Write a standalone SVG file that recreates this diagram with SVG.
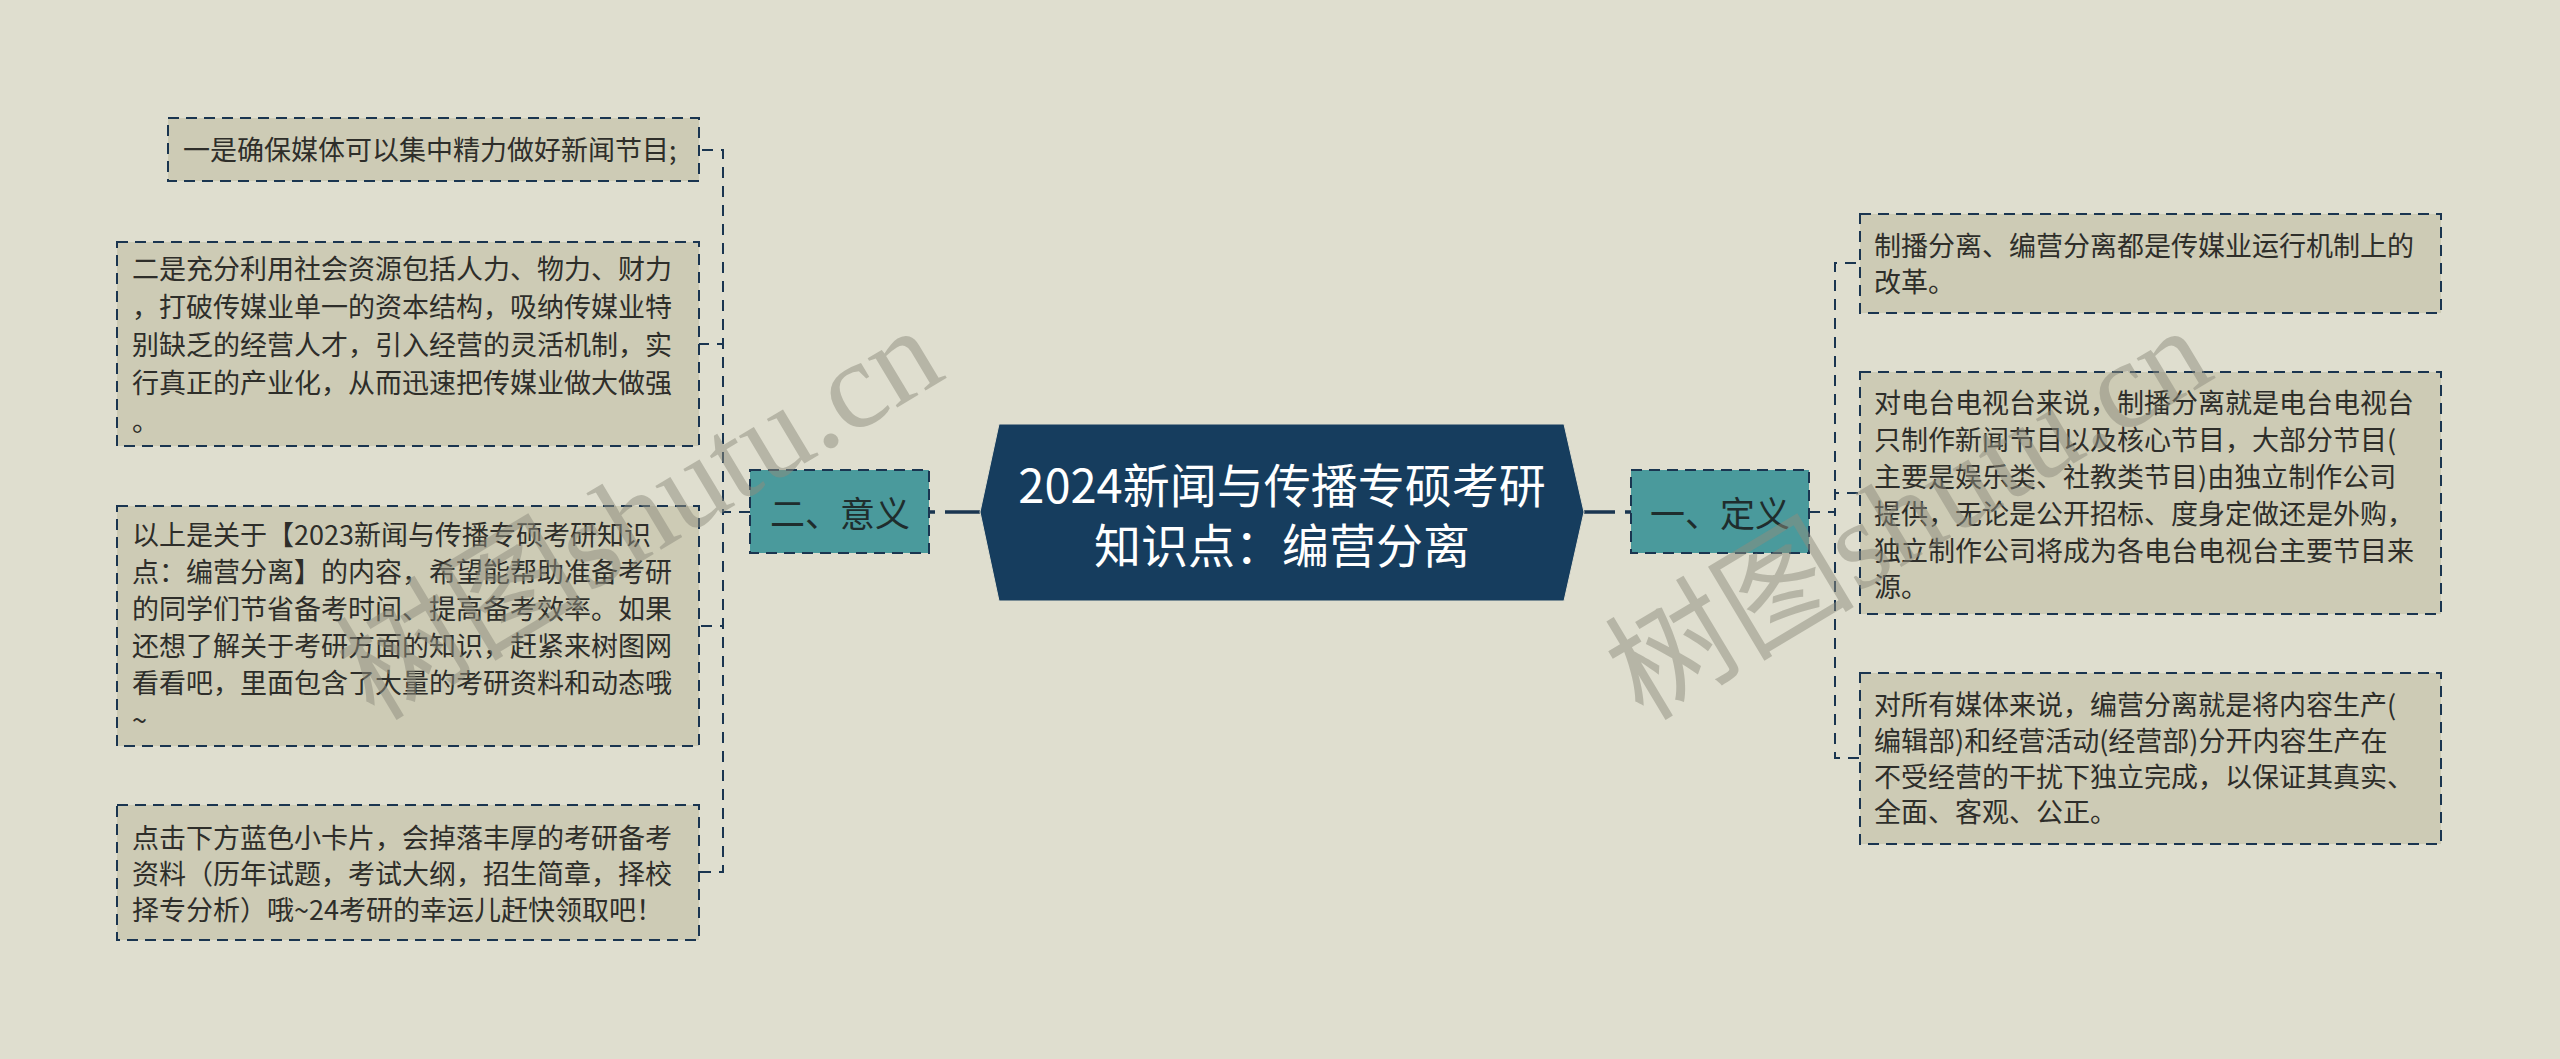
<svg xmlns="http://www.w3.org/2000/svg" width="2560" height="1059" viewBox="0 0 2560 1059">
<style>
.bg{fill:#DFDECF}
.leaf{fill:#CDCBB5;stroke:#1A3550;stroke-width:2;stroke-dasharray:11 7}
.branch{fill:#4A9A9C;stroke:#1A3550;stroke-width:2;stroke-dasharray:11 7}
.center{fill:#163D5E;stroke:#DFDECF;stroke-width:1}
.lt{font-family:"Noto Sans CJK SC","Noto Sans",sans-serif;font-size:27px;fill:#2E2E2A}
.bt{font-family:"Noto Sans CJK SC","Noto Sans",sans-serif;font-size:35px;fill:#1F2D2D;text-anchor:middle;dominant-baseline:central}
.ct{font-family:"Noto Sans CJK SC","Noto Sans",sans-serif;font-size:47px;fill:#FFFFFF;text-anchor:middle;dominant-baseline:central}
.elbow{fill:none;stroke:#1A3550;stroke-width:2;stroke-dasharray:11 8}
.main{fill:none;stroke:#1A3550;stroke-width:3.5;stroke-dasharray:6 10 40}
.wm{font-family:"Liberation Serif","Noto Sans CJK SC",serif;font-size:125px;fill:#8E8D7E;opacity:0.5}
</style>
<rect class="bg" x="0" y="0" width="2560" height="1059"/>
<g id="connectors">
<path class="main" d="M929 512 H981"/>
<path class="main" d="M1631 512 H1582"/>
<path class="elbow" d="M750 512 H723 V150 H699"/>
<path class="elbow" d="M750 512 H723 V344 H699"/>
<path class="elbow" d="M750 512 H723 V626 H699"/>
<path class="elbow" d="M750 512 H723 V872 H699"/>
<path class="elbow" d="M1809 512 H1835 V263 H1860"/>
<path class="elbow" d="M1809 512 H1835 V493 H1860"/>
<path class="elbow" d="M1809 512 H1835 V758 H1860"/>
</g>
<g id="center">
<polygon class="center" points="999,424 1564,424 1584,512 1564,601 999,601 980,512"/>
<text class="ct" x="1282" y="482">2024新闻与传播专硕考研</text>
<text class="ct" x="1282" y="542">知识点：编营分离</text>
</g>
<g id="branch-left">
<rect class="branch" x="750" y="470" width="179" height="83"/>
<text class="bt" x="840" y="511">二、意义</text>
</g>
<g id="branch-right">
<rect class="branch" x="1631" y="470" width="178" height="83"/>
<text class="bt" x="1720" y="511">一、定义</text>
</g>
<g id="leaf-l1">
<rect class="leaf" x="168" y="118" width="531" height="63"/>
<text class="lt" x="183" y="160">一是确保媒体可以集中精力做好新闻节目;</text>
</g>
<g id="leaf-l2">
<rect class="leaf" x="117" y="242" width="582" height="204"/>
<text class="lt" x="132" y="279">二是充分利用社会资源包括人力、物力、财力</text>
<text class="lt" x="132" y="317">，打破传媒业单一的资本结构，吸纳传媒业特</text>
<text class="lt" x="132" y="355">别缺乏的经营人才，引入经营的灵活机制，实</text>
<text class="lt" x="132" y="393">行真正的产业化，从而迅速把传媒业做大做强</text>
<text class="lt" x="132" y="431">。</text>
</g>
<g id="leaf-l3">
<rect class="leaf" x="117" y="506" width="582" height="240"/>
<text class="lt" x="132" y="545">以上是关于【2023新闻与传播专硕考研知识</text>
<text class="lt" x="132" y="582">点：编营分离】的内容，希望能帮助准备考研</text>
<text class="lt" x="132" y="619">的同学们节省备考时间、提高备考效率。如果</text>
<text class="lt" x="132" y="656">还想了解关于考研方面的知识，赶紧来树图网</text>
<text class="lt" x="132" y="693">看看吧，里面包含了大量的考研资料和动态哦</text>
<text class="lt" x="132" y="730">~</text>
</g>
<g id="leaf-l4">
<rect class="leaf" x="117" y="805" width="582" height="135"/>
<text class="lt" x="132" y="848">点击下方蓝色小卡片，会掉落丰厚的考研备考</text>
<text class="lt" x="132" y="884">资料（历年试题，考试大纲，招生简章，择校</text>
<text class="lt" x="132" y="920">择专分析）哦~24考研的幸运儿赶快领取吧！</text>
</g>
<g id="leaf-r1">
<rect class="leaf" x="1860" y="214" width="581" height="99"/>
<text class="lt" x="1874" y="256">制播分离、编营分离都是传媒业运行机制上的</text>
<text class="lt" x="1874" y="292">改革。</text>
</g>
<g id="leaf-r2">
<rect class="leaf" x="1860" y="372" width="581" height="242"/>
<text class="lt" x="1874" y="413">对电台电视台来说，制播分离就是电台电视台</text>
<text class="lt" x="1874" y="450">只制作新闻节目以及核心节目，大部分节目(</text>
<text class="lt" x="1874" y="487">主要是娱乐类、社教类节目)由独立制作公司</text>
<text class="lt" x="1874" y="524">提供，无论是公开招标、度身定做还是外购，</text>
<text class="lt" x="1874" y="561">独立制作公司将成为各电台电视台主要节目来</text>
<text class="lt" x="1874" y="597">源。</text>
</g>
<g id="leaf-r3">
<rect class="leaf" x="1860" y="673" width="581" height="171"/>
<text class="lt" x="1874" y="715">对所有媒体来说，编营分离就是将内容生产(</text>
<text class="lt" x="1874" y="751">编辑部)和经营活动(经营部)分开内容生产在</text>
<text class="lt" x="1874" y="787">不受经营的干扰下独立完成，以保证其真实、</text>
<text class="lt" x="1874" y="822">全面、客观、公正。</text>
</g>
<g id="watermarks">
<text class="wm" transform="translate(374 722) rotate(-31)">树图shutu.cn</text>
<text class="wm" transform="translate(1643 722) rotate(-31)">树图shutu.cn</text>
</g>
</svg>
